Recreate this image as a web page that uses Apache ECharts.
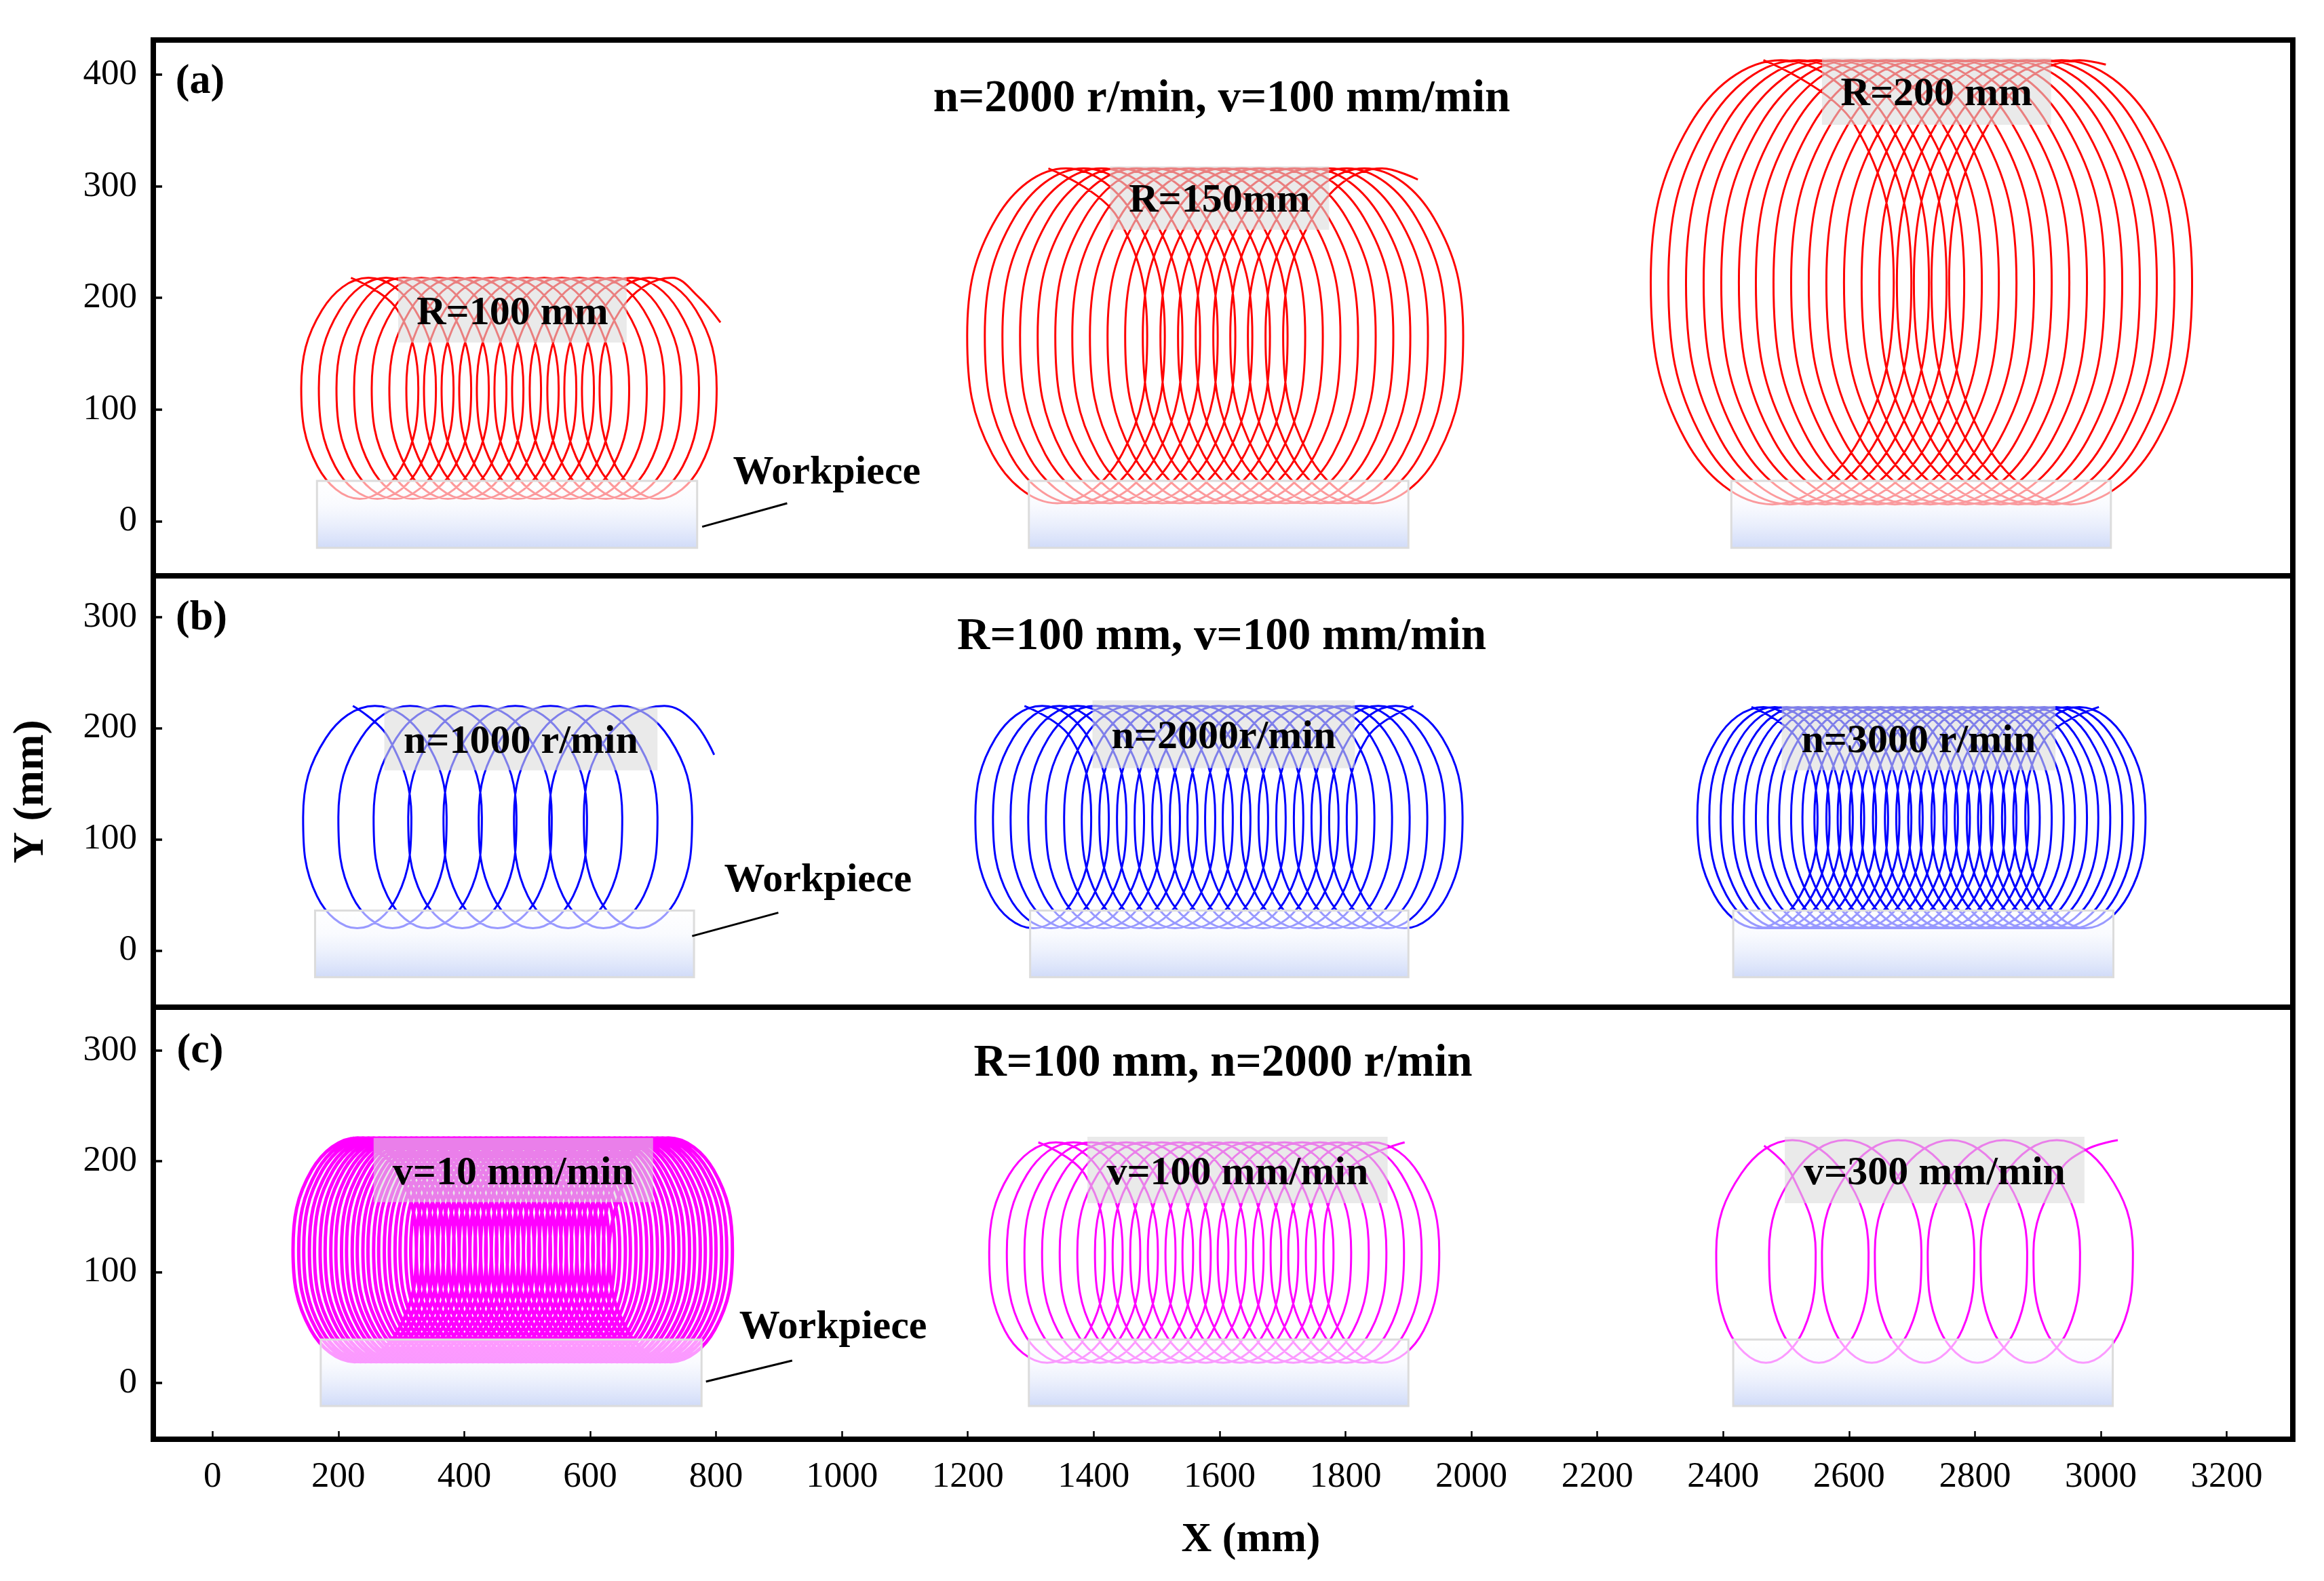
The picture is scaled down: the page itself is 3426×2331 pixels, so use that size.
<!DOCTYPE html>
<html>
<head>
<meta charset="utf-8">
<style>html,body{margin:0;padding:0;background:#fff}#c{width:3426px;height:2331px}</style>
<script src="https://cdn.jsdelivr.net/npm/echarts@6/dist/echarts.min.js"></script>
</head>
<body>
<div id="c"></div>
<script>
// Path points are hand estimates: about 8 points per turn, placed on the extremes and
// spacings. Lines are smoothed between them by ECharts.
// The v=10 mm/min path has far more turns than can be read; 60 turns with a wider
// line stand in for the dense mass, so that one series is an approximation.
const xTicks = [0,200,400,600,800,1000,1200,1400,1600,1800,2000,2200,2400,2600,2800,3000,3200];
const yTicksA = [0,100,200,300,400];
const yTicksB = [0,100,200,300];
const yTicksC = [0,100,200,300];

const a1X = [
220,294,327,301,234,167,141,174, 248,322,355,329,262,195,169,202, 276,350,383,357,290,223,197,230,
304,378,411,385,318,251,225,258, 332,406,439,413,346,279,253,286, 360,434,467,441,374,307,281,314,
387,461,494,468,401,334,308,341, 415,489,522,496,429,362,336,369, 443,517,550,524,457,390,364,397,
471,545,578,552,485,418,392,425, 499,573,606,580,513,446,420,453, 527,601,634,608,541,474,448,481,
555,629,662,636,569,502,476,509, 583,657,690,664,597,530,504,537, 611,685,718,692,625,558,532,565,
638,712,745,719,652,585,559,592, 666,740,773,747,680,613,587,620, 694,768,801,775,708,641,615,648,
730,772,807];
const a1Y = [
218,189,119,49,20,49,119,189, 218,189,119,49,20,49,119,189, 218,189,119,49,20,49,119,189,
218,189,119,49,20,49,119,189, 218,189,119,49,20,49,119,189, 218,189,119,49,20,49,119,189,
218,189,119,49,20,49,119,189, 218,189,119,49,20,49,119,189, 218,189,119,49,20,49,119,189,
218,189,119,49,20,49,119,189, 218,189,119,49,20,49,119,189, 218,189,119,49,20,49,119,189,
218,189,119,49,20,49,119,189, 218,189,119,49,20,49,119,189, 218,189,119,49,20,49,119,189,
218,189,119,49,20,49,119,189, 218,189,119,49,20,49,119,189, 218,189,119,49,20,49,119,189,
218,201,178];

const a2X = [
1328,1438,1485,1445,1342,1239,1199,1246, 1356,1466,1513,1473,1370,1267,1227,1274, 1384,1494,1541,1501,1398,1295,1255,1302,
1412,1522,1569,1529,1426,1323,1283,1330, 1440,1550,1597,1557,1454,1351,1311,1358, 1468,1578,1625,1585,1482,1379,1339,1386,
1495,1605,1652,1612,1509,1406,1366,1413, 1523,1633,1680,1640,1537,1434,1394,1441, 1551,1661,1708,1668,1565,1462,1422,1469,
1579,1689,1736,1696,1593,1490,1450,1497, 1607,1717,1764,1724,1621,1518,1478,1525, 1635,1745,1792,1752,1649,1546,1506,1553,
1663,1773,1820,1780,1677,1574,1534,1581, 1691,1801,1848,1808,1705,1602,1562,1609, 1719,1829,1876,1836,1733,1630,1590,1637,
1746,1856,1903,1863,1760,1657,1617,1664, 1774,1884,1931,1891,1788,1685,1645,1692, 1802,1912,1959,1919,1816,1713,1673,1720,
1830,1940,1987,1947,1844,1741,1701,1748, 1858,1915];
const a2Y = [
316,272,166,60,16,60,166,272, 316,272,166,60,16,60,166,272, 316,272,166,60,16,60,166,272,
316,272,166,60,16,60,166,272, 316,272,166,60,16,60,166,272, 316,272,166,60,16,60,166,272,
316,272,166,60,16,60,166,272, 316,272,166,60,16,60,166,272, 316,272,166,60,16,60,166,272,
316,272,166,60,16,60,166,272, 316,272,166,60,16,60,166,272, 316,272,166,60,16,60,166,272,
316,272,166,60,16,60,166,272, 316,272,166,60,16,60,166,272, 316,272,166,60,16,60,166,272,
316,272,166,60,16,60,166,272, 316,272,166,60,16,60,166,272, 316,272,166,60,16,60,166,272,
316,272,166,60,16,60,166,272, 316,306];

const a3X = [
2464,2609,2671,2616,2478,2340,2285,2347, 2492,2637,2699,2644,2506,2368,2313,2375, 2520,2665,2727,2672,2534,2396,2341,2403,
2548,2693,2755,2700,2562,2424,2369,2431, 2576,2721,2783,2728,2590,2452,2397,2459, 2604,2749,2811,2756,2618,2480,2425,2487,
2631,2776,2838,2783,2645,2507,2452,2514, 2659,2804,2866,2811,2673,2535,2480,2542, 2687,2832,2894,2839,2701,2563,2508,2570,
2715,2860,2922,2867,2729,2591,2536,2598, 2743,2888,2950,2895,2757,2619,2564,2626, 2771,2916,2978,2923,2785,2647,2592,2654,
2799,2944,3006,2951,2813,2675,2620,2682, 2827,2972,3034,2979,2841,2703,2648,2710, 2855,3000,3062,3007,2869,2731,2676,2738,
2882,3027,3089,3034,2896,2758,2703,2765, 2910,3055,3117,3062,2924,2786,2731,2793, 2938,3083,3145,3090,2952,2814,2759,2821,
2966,3008];
const a3Y = [
413,355,214,73,15,73,214,355, 413,355,214,73,15,73,214,355, 413,355,214,73,15,73,214,355,
413,355,214,73,15,73,214,355, 413,355,214,73,15,73,214,355, 413,355,214,73,15,73,214,355,
413,355,214,73,15,73,214,355, 413,355,214,73,15,73,214,355, 413,355,214,73,15,73,214,355,
413,355,214,73,15,73,214,355, 413,355,214,73,15,73,214,355, 413,355,214,73,15,73,214,355,
413,355,214,73,15,73,214,355, 413,355,214,73,15,73,214,355, 413,355,214,73,15,73,214,355,
413,355,214,73,15,73,214,355, 413,355,214,73,15,73,214,355, 413,355,214,73,15,73,214,355,
413,409];

const b1X = [
223,280,316,294,230,166,144,180, 258,336,372,350,286,222,200,236, 314,392,428,406,342,278,256,292,
369,447,483,461,397,333,311,347, 425,503,539,517,453,389,367,403, 481,559,595,573,509,445,423,459,
537,615,651,629,565,501,479,515, 593,671,707,685,621,557,535,571, 648,726,762,740,676,612,590,626,
718,764,797];
const b1Y = [
220,191,120,49,20,49,120,191, 220,191,120,49,20,49,120,191, 220,191,120,49,20,49,120,191,
220,191,120,49,20,49,120,191, 220,191,120,49,20,49,120,191, 220,191,120,49,20,49,120,191,
220,191,120,49,20,49,120,191, 220,191,120,49,20,49,120,191, 220,191,120,49,20,49,120,191,
220,206,176];

const b2X = [
1290,1364,1396,1371,1304,1237,1212,1244, 1318,1392,1424,1399,1332,1265,1240,1272, 1346,1420,1452,1427,1360,1293,1268,1300,
1374,1448,1480,1455,1388,1321,1296,1328, 1402,1476,1508,1483,1416,1349,1324,1356, 1431,1505,1537,1512,1445,1378,1353,1385,
1459,1533,1565,1540,1473,1406,1381,1413, 1487,1561,1593,1568,1501,1434,1409,1441, 1515,1589,1621,1596,1529,1462,1437,1469,
1543,1617,1649,1624,1557,1490,1465,1497, 1571,1645,1677,1652,1585,1518,1493,1525, 1599,1673,1705,1680,1613,1546,1521,1553,
1627,1701,1733,1708,1641,1574,1549,1581, 1655,1729,1761,1736,1669,1602,1577,1609, 1683,1757,1789,1764,1697,1630,1605,1637,
1712,1786,1818,1793,1726,1659,1634,1666, 1740,1814,1846,1821,1754,1687,1662,1694, 1768,1842,1874,1849,1782,1715,1690,1722,
1796,1870,1902,1877,1810,1743,1718,1750, 1824,1898,1930,1905,1838,1771,1746,1778, 1852,1926,1958,1933,1866,1799,1774,1806,
1880,1954,1986,1961,1894,1827,1802,1834, 1908];
const b2Y = [
220,191,120,49,20,49,120,191, 220,191,120,49,20,49,120,191, 220,191,120,49,20,49,120,191,
220,191,120,49,20,49,120,191, 220,191,120,49,20,49,120,191, 220,191,120,49,20,49,120,191,
220,191,120,49,20,49,120,191, 220,191,120,49,20,49,120,191, 220,191,120,49,20,49,120,191,
220,191,120,49,20,49,120,191, 220,191,120,49,20,49,120,191, 220,191,120,49,20,49,120,191,
220,191,120,49,20,49,120,191, 220,191,120,49,20,49,120,191, 220,191,120,49,20,49,120,191,
220,191,120,49,20,49,120,191, 220,191,120,49,20,49,120,191, 220,191,120,49,20,49,120,191,
220,191,120,49,20,49,120,191, 220,191,120,49,20,49,120,191, 220,191,120,49,20,49,120,191,
220,191,120,49,20,49,120,191, 220];

const b3X = [
2445,2518,2550,2523,2454,2386,2359,2390, 2464,2537,2569,2542,2473,2405,2378,2409, 2482,2555,2587,2560,2491,2423,2396,2427,
2501,2574,2606,2579,2510,2442,2415,2446, 2519,2592,2624,2597,2528,2460,2433,2464, 2538,2611,2643,2616,2547,2479,2452,2483,
2557,2630,2662,2635,2566,2498,2471,2502, 2575,2648,2680,2653,2584,2516,2489,2520, 2594,2667,2699,2672,2603,2535,2508,2539,
2612,2685,2717,2690,2621,2553,2526,2557, 2631,2704,2736,2709,2640,2572,2545,2576, 2650,2723,2755,2728,2659,2591,2564,2595,
2668,2741,2773,2746,2677,2609,2582,2613, 2687,2760,2792,2765,2696,2628,2601,2632, 2705,2778,2810,2783,2714,2646,2619,2650,
2724,2797,2829,2802,2733,2665,2638,2669, 2743,2816,2848,2821,2752,2684,2657,2688, 2761,2834,2866,2839,2770,2702,2675,2706,
2780,2853,2885,2858,2789,2721,2694,2725, 2798,2871,2903,2876,2807,2739,2712,2743, 2817,2890,2922,2895,2826,2758,2731,2762,
2836,2909,2941,2914,2845,2777,2750,2781, 2854,2927,2959,2932,2863,2795,2768,2799, 2873,2946,2978,2951,2882,2814,2787,2818,
2891,2964,2996,2969,2900,2832,2805,2836, 2910,2983,3015,2988,2919,2851,2824,2855, 2929,3002,3034,3007,2938,2870,2843,2874,
2947,3020,3052,3025,2956,2888,2861,2892, 2966,3039,3071,3044,2975,2907,2880,2911, 2997];
const b3Y = [
219,190,120,50,20,50,120,190, 219,190,120,50,20,50,120,190, 219,190,120,50,20,50,120,190,
219,190,120,50,20,50,120,190, 219,190,120,50,20,50,120,190, 219,190,120,50,20,50,120,190,
219,190,120,50,20,50,120,190, 219,190,120,50,20,50,120,190, 219,190,120,50,20,50,120,190,
219,190,120,50,20,50,120,190, 219,190,120,50,20,50,120,190, 219,190,120,50,20,50,120,190,
219,190,120,50,20,50,120,190, 219,190,120,50,20,50,120,190, 219,190,120,50,20,50,120,190,
219,190,120,50,20,50,120,190, 219,190,120,50,20,50,120,190, 219,190,120,50,20,50,120,190,
219,190,120,50,20,50,120,190, 219,190,120,50,20,50,120,190, 219,190,120,50,20,50,120,190,
219,190,120,50,20,50,120,190, 219,190,120,50,20,50,120,190, 219,190,120,50,20,50,120,190,
219,190,120,50,20,50,120,190, 219,190,120,50,20,50,120,190, 219,190,120,50,20,50,120,190,
219,190,120,50,20,50,120,190, 219,190,120,50,20,50,120,190, 219];

const c1X = [
222,294,324,296,226,156,128,158, 231,303,333,305,235,165,137,167, 239,311,341,313,243,173,145,175,
248,320,350,322,252,182,154,184, 256,328,358,330,260,190,162,192, 265,337,367,339,269,199,171,201,
273,345,375,347,277,207,179,209, 282,354,384,356,286,216,188,218, 290,362,392,364,294,224,196,226,
299,371,401,373,303,233,205,235, 307,379,409,381,311,241,213,243, 316,388,418,390,320,250,222,252,
324,396,426,398,328,258,230,260, 333,405,435,407,337,267,239,269, 341,413,443,415,345,275,247,277,
350,422,452,424,354,284,256,286, 358,430,460,432,362,292,264,294, 367,439,469,441,371,301,273,303,
375,447,477,449,379,309,281,311, 384,456,486,458,388,318,290,320, 392,464,494,466,396,326,298,328,
401,473,503,475,405,335,307,337, 409,481,511,483,413,343,315,345, 418,490,520,492,422,352,324,354,
426,498,528,500,430,360,332,362, 435,507,537,509,439,369,341,371, 443,515,545,517,447,377,349,379,
452,524,554,526,456,386,358,388, 460,532,562,534,464,394,366,396, 469,541,571,543,473,403,375,405,
477,549,579,551,481,411,383,413, 486,558,588,560,490,420,392,422, 494,566,596,568,498,428,400,430,
503,575,605,577,507,437,409,439, 511,583,613,585,515,445,417,447, 520,592,622,594,524,454,426,456,
528,600,630,602,532,462,434,464, 537,609,639,611,541,471,443,473, 545,617,647,619,549,479,451,481,
554,626,656,628,558,488,460,490, 562,634,664,636,566,496,468,498, 571,643,673,645,575,505,477,507,
579,651,681,653,583,513,485,515, 588,660,690,662,592,522,494,524, 596,668,698,670,600,530,502,532,
605,677,707,679,609,539,511,541, 613,685,715,687,617,547,519,549, 622,694,724,696,626,556,528,558,
630,702,732,704,634,564,536,566, 639,711,741,713,643,573,545,575, 647,719,749,721,651,581,553,583,
656,728,758,730,660,590,562,592, 664,736,766,738,668,598,570,600, 673,745,775,747,677,607,579,609,
681,753,783,755,685,615,587,617, 690,762,792,764,694,624,596,626, 698,770,800,772,702,632,604,634,
707,779,809,781,711,641,613,643, 715,787,817,789,719,649,621,651, 724,796,826,798,728,658,630,660];
const c1Y = [
221,192,120,48,19,48,120,192, 221,192,120,48,19,48,120,192, 221,192,120,48,19,48,120,192,
221,192,120,48,19,48,120,192, 221,192,120,48,19,48,120,192, 221,192,120,48,19,48,120,192,
221,192,120,48,19,48,120,192, 221,192,120,48,19,48,120,192, 221,192,120,48,19,48,120,192,
221,192,120,48,19,48,120,192, 221,192,120,48,19,48,120,192, 221,192,120,48,19,48,120,192,
221,192,120,48,19,48,120,192, 221,192,120,48,19,48,120,192, 221,192,120,48,19,48,120,192,
221,192,120,48,19,48,120,192, 221,192,120,48,19,48,120,192, 221,192,120,48,19,48,120,192,
221,192,120,48,19,48,120,192, 221,192,120,48,19,48,120,192, 221,192,120,48,19,48,120,192,
221,192,120,48,19,48,120,192, 221,192,120,48,19,48,120,192, 221,192,120,48,19,48,120,192,
221,192,120,48,19,48,120,192, 221,192,120,48,19,48,120,192, 221,192,120,48,19,48,120,192,
221,192,120,48,19,48,120,192, 221,192,120,48,19,48,120,192, 221,192,120,48,19,48,120,192,
221,192,120,48,19,48,120,192, 221,192,120,48,19,48,120,192, 221,192,120,48,19,48,120,192,
221,192,120,48,19,48,120,192, 221,192,120,48,19,48,120,192, 221,192,120,48,19,48,120,192,
221,192,120,48,19,48,120,192, 221,192,120,48,19,48,120,192, 221,192,120,48,19,48,120,192,
221,192,120,48,19,48,120,192, 221,192,120,48,19,48,120,192, 221,192,120,48,19,48,120,192,
221,192,120,48,19,48,120,192, 221,192,120,48,19,48,120,192, 221,192,120,48,19,48,120,192,
221,192,120,48,19,48,120,192, 221,192,120,48,19,48,120,192, 221,192,120,48,19,48,120,192,
221,192,120,48,19,48,120,192, 221,192,120,48,19,48,120,192, 221,192,120,48,19,48,120,192,
221,192,120,48,19,48,120,192, 221,192,120,48,19,48,120,192, 221,192,120,48,19,48,120,192,
221,192,120,48,19,48,120,192, 221,192,120,48,19,48,120,192, 221,192,120,48,19,48,120,192,
221,192,120,48,19,48,120,192, 221,192,120,48,19,48,120,192, 221,192,120,48,19,48,120,192];

const c2X = [
1312,1386,1418,1393,1326,1259,1234,1266, 1340,1414,1446,1421,1354,1287,1262,1294, 1368,1442,1474,1449,1382,1315,1290,1322,
1396,1470,1502,1477,1410,1343,1318,1350, 1424,1498,1530,1505,1438,1371,1346,1378, 1452,1526,1558,1533,1466,1399,1374,1406,
1480,1554,1586,1561,1494,1427,1402,1434, 1508,1582,1614,1589,1522,1455,1430,1462, 1536,1610,1642,1617,1550,1483,1458,1490,
1564,1638,1670,1645,1578,1511,1486,1518, 1592,1666,1698,1673,1606,1539,1514,1546, 1619,1693,1725,1700,1633,1566,1541,1573,
1647,1721,1753,1728,1661,1594,1569,1601, 1675,1749,1781,1756,1689,1622,1597,1629, 1703,1777,1809,1784,1717,1650,1625,1657,
1731,1805,1837,1812,1745,1678,1653,1685, 1759,1833,1865,1840,1773,1706,1681,1713, 1787,1861,1893,1868,1801,1734,1709,1741,
1815,1889,1921,1896,1829,1762,1737,1769, 1843,1917,1949,1924,1857,1790,1765,1797, 1894];
const c2Y = [
217,188,118,47,18,47,118,188, 217,188,118,47,18,47,118,188, 217,188,118,47,18,47,118,188,
217,188,118,47,18,47,118,188, 217,188,118,47,18,47,118,188, 217,188,118,47,18,47,118,188,
217,188,118,47,18,47,118,188, 217,188,118,47,18,47,118,188, 217,188,118,47,18,47,118,188,
217,188,118,47,18,47,118,188, 217,188,118,47,18,47,118,188, 217,188,118,47,18,47,118,188,
217,188,118,47,18,47,118,188, 217,188,118,47,18,47,118,188, 217,188,118,47,18,47,118,188,
217,188,118,47,18,47,118,188, 217,188,118,47,18,47,118,188, 217,188,118,47,18,47,118,188,
217,188,118,47,18,47,118,188, 217,188,118,47,18,47,118,188, 217];

const c3X = [
2465,2508,2547,2528,2468,2408,2389,2429, 2510,2591,2631,2612,2552,2492,2473,2513, 2594,2675,2715,2696,2636,2576,2557,2597,
2678,2759,2799,2780,2720,2660,2641,2681, 2762,2843,2883,2864,2804,2744,2725,2765, 2846,2927,2967,2948,2888,2828,2809,2849,
2930,3011,3051,3032,2972,2912,2893,2933, 2975,3027];
const c3Y = [
214,189,118,48,18,48,118,189, 219,189,118,48,18,48,118,189, 219,189,118,48,18,48,118,189,
219,189,118,48,18,48,118,189, 219,189,118,48,18,48,118,189, 219,189,118,48,18,48,118,189,
219,189,118,48,18,48,118,189, 210,219];

const FONT = 'Liberation Serif';
const xMin = -94, xMax = 3305;
const chart = echarts.init(document.getElementById('c'), null, {renderer:'canvas'});

const grids = [
  {left:226, top:59,   width:3154, height:790, y:[-49,431], ticks:yTicksA},
  {left:226, top:849,  width:3154, height:636, y:[-51,337], ticks:yTicksB},
  {left:226, top:1485, width:3154, height:637, y:[-51,339], ticks:yTicksC}
];

const wpFill = {type:'linear',x:0,y:0,x2:0,y2:1,colorStops:[
  {offset:0,color:'rgba(255,255,255,0.6)'},
  {offset:0.35,color:'rgba(246,248,254,0.62)'},
  {offset:1,color:'#cfdaf8'}]};

function workpiece(x0,x1,y1,y0){
  return [{xAxis:x0,yAxis:y1,itemStyle:{color:wpFill,borderColor:'#dcdcdc',borderWidth:3},label:{show:false}},{xAxis:x1,yAxis:y0}];
}
function tag(text,x0,x1,y1,y0){
  return [{name:text,xAxis:x0,yAxis:y1,itemStyle:{color:'rgba(218,218,218,0.58)',borderWidth:0},
    label:{show:true,position:'inside',offset:[0,5],color:'#000',fontFamily:FONT,fontWeight:'bold',fontSize:60}},{xAxis:x1,yAxis:y0}];
}
function curve(idx,xs,ys,color,width,wp,lab,extra){
  const s = {
    type:'line', xAxisIndex:idx, yAxisIndex:idx, showSymbol:false, smooth:0.4, animation:false, silent:true,
    z:2, lineStyle:{color:color,width:width},
    data: xs.map((x,i)=>[x,ys[i]]),
    markArea:{z:5,silent:true,animation:false,data:[workpiece.apply(null,wp),tag.apply(null,lab)]}
  };
  return Object.assign(s,extra||{});
}
function leader(p,q,text,t){
  return {
    markLine:{z:6,silent:true,animation:false,symbol:'none',label:{show:false},
      lineStyle:{color:'#000',width:3,type:'solid'},data:[[{coord:p},{coord:q}]]},
    markPoint:{z:6,silent:true,animation:false,symbol:'circle',symbolSize:1,itemStyle:{color:'rgba(0,0,0,0)'},
      label:{show:true,position:'inside',color:'#000',fontFamily:FONT,fontWeight:'bold',fontSize:60,formatter:text},
      data:[{coord:t}]}
  };
}

const RED='#ff0000', BLUE='#0000ff', MAG='#ff00ff';
const W = 3;
const series = [
  curve(0,a1X,a1Y,RED,W,[166,770,36,-24],['R=100 mm',295,658,218,160],leader([778,-5],[913,16],'Workpiece',[976,43])),
  curve(0,a2X,a2Y,RED,W,[1297,1900,36,-24],['R=150mm',1426,1774,318,261]),
  curve(0,a3X,a3Y,RED,W,[2413,3016,36,-24],['R=200 mm',2557,2921,415,355]),
  curve(1,b1X,b1Y,BLUE,W,[163,765,36,-24],['n=1000 r/min',273,707,219,162],leader([762,13],[899,34],'Workpiece',[962,63])),
  curve(1,b2X,b2Y,BLUE,W,[1299,1900,36,-24],['n=2000r/min',1398,1815,225,164]),
  curve(1,b3X,b3Y,BLUE,W,[2416,3020,36,-24],['n=3000 r/min',2493,2928,220,162]),
  curve(2,c1X,c1Y,MAG,5,[172,777,39,-21],['v=10 mm/min',256,700,221,163],leader([784,1],[921,20],'Workpiece',[986,50])),
  curve(2,c2X,c2Y,MAG,W,[1297,1900,39,-21],['v=100 mm/min',1390,1867,222,162]),
  curve(2,c3X,c3Y,MAG,W,[2416,3019,39,-21],['v=300 mm/min',2498,2974,222,162])
];

const bold = (text,x,y,size)=>({text:text,left:x,top:y,textAlign:'center',textVerticalAlign:'middle',
  textStyle:{fontFamily:FONT,fontWeight:'bold',fontSize:size,color:'#000'}});

chart.setOption({
  backgroundColor:'#fff',
  animation:false,
  title:[
    bold('n=2000 r/min, v=100 mm/min',1796,142,67),
    bold('R=100 mm, v=100 mm/min',1796,935,67),
    bold('R=100 mm, n=2000 r/min',1798,1564,67),
    bold('(a)',290,116,62),
    bold('(b)',292,907,62),
    bold('(c)',290,1545,62)
  ],
  grid: grids.map(g=>({left:g.left,top:g.top,width:g.width,height:g.height,show:true,outerBoundsMode:'none',
    borderColor:'#000',borderWidth:8,backgroundColor:'transparent',containLabel:false})),
  xAxis: grids.map((g,i)=>{
    const last = i===2;
    return {
      type:'value', gridIndex:i, min:xMin, max:xMax, splitLine:{show:false}, axisLine:{show:false,onZero:false},
      axisTick:{show:last,inside:true,length:12,lineStyle:{color:'#000',width:2.5},customValues:xTicks},
      axisLabel:{show:last,margin:30,color:'#000',fontFamily:FONT,fontSize:53,customValues:xTicks,formatter:v=>String(v)},
      name:last?'X (mm)':'', nameLocation:'middle', nameGap:118,
      nameTextStyle:{fontFamily:FONT,fontWeight:'bold',fontSize:62,color:'#000',padding:[0,0,0,82]}
    };
  }),
  yAxis: grids.map((g,i)=>({
    type:'value', gridIndex:i, min:g.y[0], max:g.y[1], splitLine:{show:false}, axisLine:{show:false,onZero:false},
    axisTick:{show:true,inside:true,length:13,lineStyle:{color:'#000',width:3.5},customValues:g.ticks},
    axisLabel:{show:true,margin:24,color:'#000',fontFamily:FONT,fontSize:53,padding:[20,0,0,0],customValues:g.ticks,formatter:v=>String(v)},
    name:i===1?'Y (mm)':'', nameLocation:'middle', nameGap:148, nameRotate:90,
    nameTextStyle:{fontFamily:FONT,fontWeight:'bold',fontSize:64,color:'#000'}
  })),
  series: series
});
</script>
</body>
</html>
